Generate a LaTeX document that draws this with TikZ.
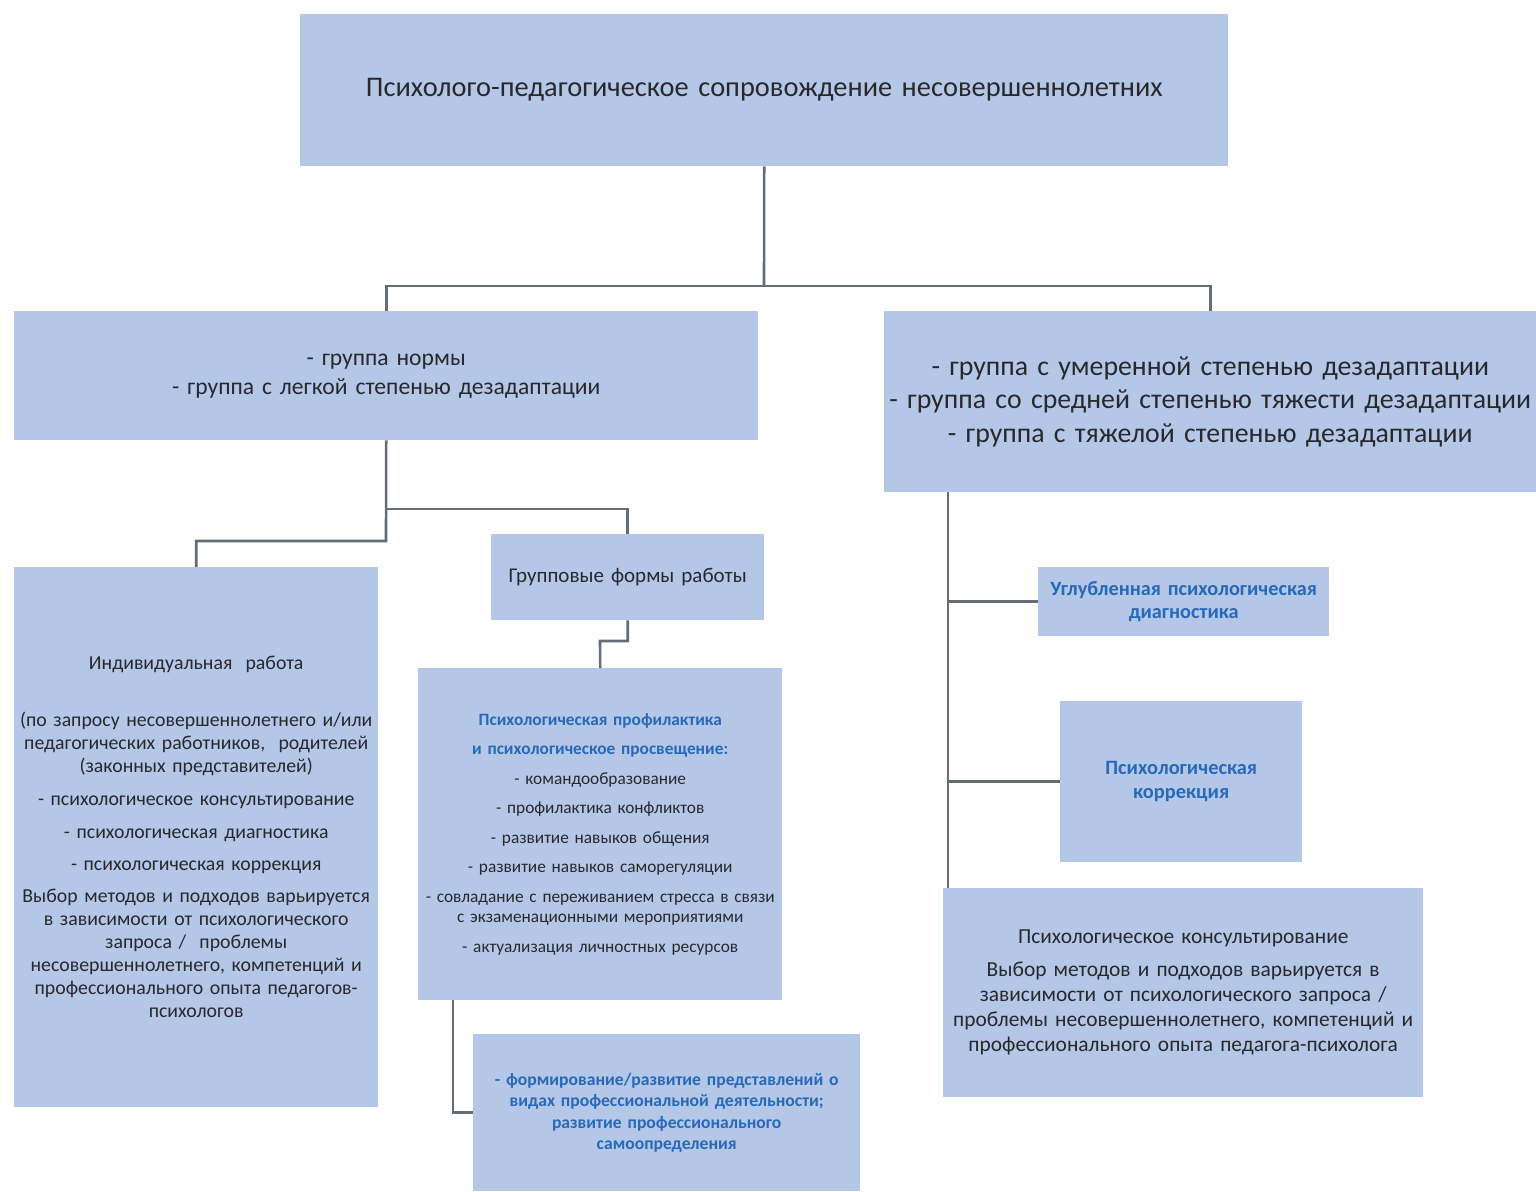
\documentclass[tikz,border=0pt]{standalone}
\usepackage{fontspec}
\setmainfont{Carlito}
\usetikzlibrary{calc}
\definecolor{boxfill}{RGB}{180,199,231}
\definecolor{txt}{RGB}{40,40,45}
\definecolor{hl}{RGB}{40,105,185}
\definecolor{lineclr}{RGB}{100,108,118}
\tikzset{
  box/.style={fill=boxfill, inner sep=0pt, align=center, anchor=north west, text=txt},
  conn/.style={draw=lineclr, line width=2.6pt},
}
\begin{document}
\begin{tikzpicture}[x=1pt,y=-1pt]
\useasboundingbox (0,0) rectangle (1536,1191);

% top level
\node[box, minimum width=928pt, minimum height=152pt, text width=900pt,
      font=\fontsize{28.4}{32}\selectfont] (top) at (300,14)
  {Психолого-педагогическое сопровождение несовершеннолетних};

% two groups
\node[box, minimum width=744pt, minimum height=129pt, text width=720pt,
      font=\fontsize{23.6}{29}\selectfont] (lg) at (14,311)
  {- группа нормы\\- группа с легкой степенью дезадаптации};
\node[box, minimum width=652pt, minimum height=181pt, text width=650pt,
      font=\fontsize{27.8}{33.5}\selectfont] (rg) at (884,311)
  {- группа с умеренной степенью дезадаптации\\
   - группа со средней степенью тяжести дезадаптации\\
   - группа с тяжелой степенью дезадаптации};

% individual work
\node[box, minimum width=364pt, minimum height=540pt, text width=364pt,
      font=\fontsize{19.8}{23}\selectfont] (ind) at (14,567)
  {Индивидуальная\ \ работа\\[34pt]
   (по запросу несовершеннолетнего и/или\\
   педагогических работников,\ \ родителей\\
   (законных представителей)\\[10pt]
   - психологическое консультирование\\[10pt]
   - психологическая диагностика\\[9pt]
   - психологическая коррекция\\[9pt]
   Выбор методов и подходов варьируется\\
   в зависимости от психологического\\
   запроса /\ \ проблемы\\
   несовершеннолетнего, компетенций и\\
   профессионального опыта педагогов-\\
   психологов};

% group forms
\node[box, minimum width=273pt, minimum height=86pt, text width=265pt,
      font=\fontsize{21}{24}\selectfont] (grp) at (491,534)
  {Групповые формы работы};

\node[box, minimum width=364pt, minimum height=332pt, text width=364pt,
      font=\fontsize{17.3}{29.5}\selectfont] (prof) at (418,668)
  {\textcolor{hl}{\bfseries Психологическая профилактика}\\
   \textcolor{hl}{\bfseries и психологическое просвещение:}\\
   - командообразование\\
   - профилактика конфликтов\\
   - развитие навыков общения\\
   - развитие навыков саморегуляции\\
   - совладание с переживанием стресса в связи\\[-9pt]
   с экзаменационными мероприятиями\\
   - актуализация личностных ресурсов};

\node[box, minimum width=387pt, minimum height=157pt, text width=380pt,
      text=hl, font=\fontsize{17.6}{21.5}\selectfont\bfseries] (bot) at (473,1034)
  {- формирование/развитие представлений о\\
   видах профессиональной деятельности;\\
   развитие профессионального\\
   самоопределения};

% right branch
\node[box, minimum width=291pt, minimum height=69pt, text width=285pt,
      text=hl, font=\fontsize{20.3}{23}\selectfont\bfseries] (diag) at (1038,567)
  {Углубленная психологическая\\диагностика};
\node[box, minimum width=242pt, minimum height=161pt, text width=235pt,
      text=hl, font=\fontsize{20.4}{24}\selectfont\bfseries] (corr) at (1060,701)
  {Психологическая\\коррекция};
\node[box, minimum width=480pt, minimum height=209pt, text width=470pt,
      font=\fontsize{21.4}{25}\selectfont] (cons) at (943,888)
  {Психологическое консультирование\\[8pt]
   Выбор методов и подходов варьируется в\\
   зависимости от психологического запроса /\\
   проблемы несовершеннолетнего, компетенций и\\
   профессионального опыта педагога-психолога};

% connectors
\coordinate (j1) at (764,286);
\draw[conn] (top.south) -- (j1);
\draw[conn] (lg.north) |- (j1) -| (rg.north);

\coordinate (j2) at (386,541);
\coordinate (j3) at (386,509);
\draw[conn] (lg.south) -- (j2) -| (ind.north);
\draw[conn] (j3) -| (grp.north);

\coordinate (j4) at (600,641);
\draw[conn] (grp.south) |- (j4) -- (prof.north);

\coordinate (j5) at (453,1000);
\draw[conn] (j5) |- (bot.west);

\coordinate (j6) at (948,492);
\coordinate (j7) at (948,888);
\draw[conn] (j6) -- (j7);
\draw[conn] (j6 |- diag.west) -- (diag.west);
\draw[conn] (j6 |- corr.west) -- (corr.west);
\end{tikzpicture}
\end{document}
